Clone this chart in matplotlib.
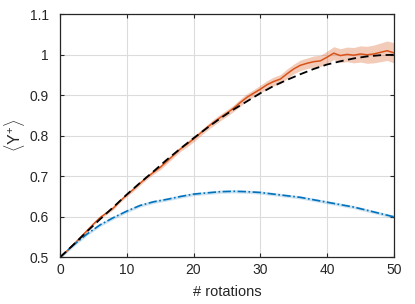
import matplotlib
matplotlib.use("Agg")
import matplotlib.pyplot as plt

# values
x_fine = list(range(0, 51))
y_sim = [0.500, 0.515, 0.531, 0.548, 0.565, 0.582, 0.598, 0.610, 0.622, 0.639,
         0.654, 0.668, 0.683, 0.697, 0.710, 0.722, 0.737, 0.752, 0.767, 0.779,
         0.792, 0.806, 0.820, 0.833, 0.845, 0.856, 0.868, 0.882, 0.895, 0.905,
         0.915, 0.926, 0.934, 0.940, 0.953, 0.965, 0.974, 0.979, 0.983, 0.985,
         0.994, 1.004, 0.998, 1.001, 0.999, 1.002, 1.000, 1.002, 1.006, 1.010,
         1.005]
sim_err = [0.000, 0.002, 0.002, 0.003, 0.003, 0.003, 0.003, 0.004, 0.004, 0.004,
           0.004, 0.005, 0.005, 0.005, 0.005, 0.006, 0.006, 0.006, 0.006, 0.007,
           0.007, 0.007, 0.007, 0.008, 0.008, 0.008, 0.008, 0.009, 0.009, 0.009,
           0.010, 0.010, 0.011, 0.011, 0.012, 0.012, 0.013, 0.013, 0.014, 0.014,
           0.015, 0.016, 0.017, 0.018, 0.019, 0.020, 0.021, 0.022, 0.023, 0.024,
           0.025]

x_coarse = [0, 2, 4, 6, 8, 10, 12, 14, 16, 18, 20, 22, 24, 26, 28, 30,
            32, 34, 36, 38, 40, 42, 44, 46, 48, 50]
y_theory = [0.500, 0.531, 0.563, 0.594, 0.624, 0.655, 0.684, 0.712, 0.741, 0.768,
            0.794, 0.819, 0.843, 0.865, 0.885, 0.905, 0.923, 0.938, 0.952, 0.965,
            0.976, 0.984, 0.991, 0.996, 0.999, 1.000]
y_other = [0.500, 0.530, 0.557, 0.580, 0.598, 0.614, 0.628, 0.637, 0.643, 0.650,
           0.656, 0.659, 0.662, 0.663, 0.662, 0.660, 0.656, 0.652, 0.648, 0.642,
           0.636, 0.630, 0.624, 0.616, 0.608, 0.600]
other_err = 0.004

plt.rcParams['font.family'] = ['Liberation Sans', 'DejaVu Sans']
plt.rcParams['mathtext.fontset'] = 'custom'
plt.rcParams['mathtext.rm'] = 'Liberation Sans'
plt.rcParams['mathtext.it'] = 'Liberation Sans:italic'

orange = '#D95319'
blue = '#0072BD'
txt = '#262626'

fig = plt.figure(figsize=(4.15, 3.04), dpi=100)
ax = fig.add_axes([0.1446, 0.1536, 0.8043, 0.7994])

ax.fill_between(x_fine, [a - e for a, e in zip(y_sim, sim_err)],
                [a + e for a, e in zip(y_sim, sim_err)],
                color=orange, alpha=0.3, lw=0)
ax.fill_between(x_coarse, [a - other_err for a in y_other],
                [a + other_err for a in y_other],
                color=blue, alpha=0.2, lw=0)
ax.plot(x_fine, y_sim, color=orange, lw=1.1)
ax.plot(x_coarse, y_other, color=blue, lw=1.2, ls=(0, (5, 1.5, 1, 1.5)))
ax.plot(x_coarse, y_theory, color='k', lw=1.3, ls=(0, (4.5, 2.5)))

ax.set_xlim(0, 50)
ax.set_ylim(0.5, 1.1)
ax.set_xticks([0, 10, 20, 30, 40, 50])
ax.set_yticks([0.5, 0.6, 0.7, 0.8, 0.9, 1.0, 1.1])
ax.set_yticklabels(['0.5', '0.6', '0.7', '0.8', '0.9', '1', '1.1'])
ax.grid(True, color='#dcdcdc', lw=0.8)
ax.set_axisbelow(True)
ax.tick_params(direction='in', length=3, width=0.8, colors=txt,
               labelsize=10, top=True, right=True)
ax.tick_params(axis='y', pad=8)
ax.tick_params(axis='x', pad=4)
for s in ax.spines.values():
    s.set_color(txt)
    s.set_linewidth(0.9)

ax.set_xlabel('# rotations', fontsize=10.5, color=txt, labelpad=6)
ax.set_ylabel(r'$\langle \mathrm{Y}^{+} \rangle$', fontsize=11.5, color=txt,
              labelpad=2)

fig.savefig('out.png', dpi=100)
